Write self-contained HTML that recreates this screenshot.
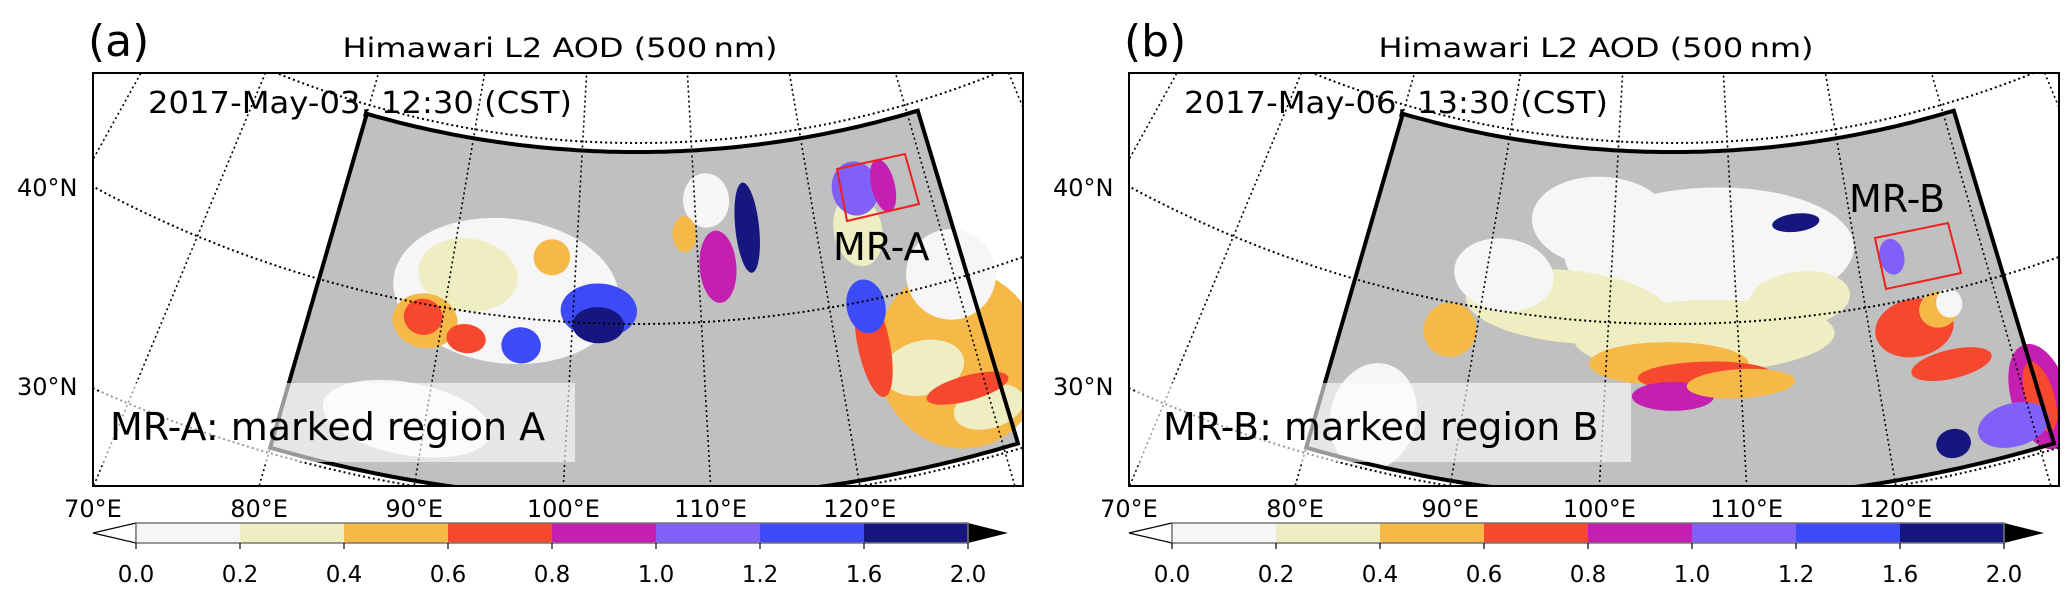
<!DOCTYPE html>
<html><head><meta charset="utf-8">
<style>
html,body{margin:0;padding:0;background:#fff;overflow:hidden;width:2067px;height:602px;}
svg{display:block;}
text{font-family:"DejaVu Sans","Liberation Sans",sans-serif;fill:#000;}
</style></head>
<body>
<svg id="fig" width="2067" height="602" viewBox="0 0 2067 602" xmlns="http://www.w3.org/2000/svg">
<defs>
<clipPath id="axclip"><rect x="93" y="73" width="930" height="413"/></clipPath>
</defs>
</svg>
<script>
// ---- data ----
const aodBounds = [0.0, 0.2, 0.4, 0.6, 0.8, 1.0, 1.2, 1.6, 2.0];
const aodColors = ["#f6f6f6","#eeeec2","#f6b947","#f5482f","#c41fb0","#8060f8","#3c4af8","#15177e"];
const lonTicks = [70, 80, 90, 100, 110, 120];
const latTicks = [40, 30];
const cbTickLabels = ["0.0","0.2","0.4","0.6","0.8","1.0","1.2","1.6","2.0"];
// blobs: lon, lat, rxDeg, ryDeg, aod
const blobsA_lon = [94.6,91.4,88.7,88.5,102,102,96.2,111,109,111.6,114.3,88.7,128.7,126,129.8,129.8,123.4,122.8,128.7,122.8,123.9,126.3,98,92];
const blobsA_lat = [41.4,42.0,39.1,39.3,40.7,39.9,38.5,46.7,44.9,43.0,45.0,33.6,35.7,35.7,32.7,40.3,43.9,37.6,34.0,39.7,46.2,46.0,43.5,38.5];
const blobsA_rx  = [9,4,2.5,1.5,3,2,1.5,2,1,1.5,1,6,6,3,2.5,3.5,2,1.2,3,1.5,2,1,1.5,1.5];
const blobsA_ry  = [4,2,1.5,1,1.5,1,1,1.5,1,2,2.5,2,5,1.5,1.2,2.5,2,3,0.7,1.5,1.5,1.5,1.0,0.8];
const blobsA_aod = [0.1,0.3,0.5,0.7,1.4,1.8,1.4,0.1,0.5,0.9,1.8,0.1,0.5,0.3,0.3,0.1,0.3,0.7,0.7,1.4,1.1,0.9,0.5,0.7];

const blobsB_lon = [108,99,107.4,96.7,91.4,104.7,107.4,105,123.4,125.5,126.4,125.5,131,131,128.7,124.4,122.8,83.9,115.4,88,115,110];
const blobsB_lat = [44,45.5,39.3,40.7,42,37.8,37.1,36,38.4,39.1,39.3,36,33,33,31.9,31.7,42.5,32.9,45.2,38.5,41,36.6];
const blobsB_rx  = [12,6,10,8,4,6,5,3,3,1.5,1,3,2,1,2.5,1.2,1,3,2,2,4,4];
const blobsB_ry  = [3.5,2.5,2,2,2,1.2,0.8,0.8,1.6,1,0.8,0.8,3,2,1.2,0.8,1,3,0.5,1.5,1.5,0.8];
const blobsB_aod = [0.1,0.1,0.3,0.3,0.1,0.5,0.7,0.9,0.7,0.5,0.1,0.7,0.9,0.7,1.1,1.8,1.1,0.15,1.8,0.5,0.3,0.5];

const NS="http://www.w3.org/2000/svg";
const svg=document.getElementById('fig');
function el(tag, attrs, parent){const e=document.createElementNS(NS,tag);for(const k in attrs)e.setAttribute(k,attrs[k]);(parent||svg).appendChild(e);return e;}
// projection
const AX=637, AY=-821;
function rad(lat){return 1145+(40-lat)*18.1;}
function ang(lon){return (lon-105)*0.645*Math.PI/180;}
function proj(lon,lat){const r=rad(lat),a=ang(lon);return [AX+r*Math.sin(a), AY+r*Math.cos(a)];}
function colorFor(v){for(let i=0;i<aodColors.length;i++){if(v<aodBounds[i+1])return aodColors[i];}return "#000";}

function panel(off, label, dateStr, mrName, boxTxt, boxRight, mrLabelPos, mrBox, lons, lats, rxs, rys, aods){
  const g=el('g',{transform:`translate(${off},0)`});
  
  
  const t1=el('text',{x:88,y:56,'font-size':44,'font-family':'Liberation Sans, sans-serif'},g);t1.textContent='('+label+')';
  
  const tt=el('text',{x:560,y:57,'font-size':27,'text-anchor':'middle',textLength:435,lengthAdjust:'spacingAndGlyphs'},g);tt.textContent='Himawari L2 AOD (500\u2009nm)';
  
  const map=el('g',{'clip-path':'url(#axclip)'},g);
  
  el('rect',{x:93,y:73,width:930,height:413,fill:'#fff'},map);
  const lonW=80, lonE=131, latS=30.3, latN=49.5;
  let d='';
  for(let lo=lonW;lo<=lonE+0.01;lo+=0.5){const p=proj(lo,latN);d+=(d?'L':'M')+p[0].toFixed(1)+','+p[1].toFixed(1);}
  for(let lo=lonE;lo>=lonW-0.01;lo-=0.5){const p=proj(lo,latS);d+='L'+p[0].toFixed(1)+','+p[1].toFixed(1);}
  d+='Z';
  const dom=el('path',{d:d,fill:'#c0c0c0'},map);
  
  const inner=el('g',{},map);
  for(let i=0;i<lons.length;i++){
    const c=proj(lons[i],lats[i]);const r=rad(lats[i]);
    const rx=rxs[i]*0.645*Math.PI/180*r, ry=rys[i]*18.1;
    const e=el('ellipse',{cx:c[0].toFixed(1),cy:c[1].toFixed(1),rx:rx.toFixed(1),ry:ry.toFixed(1),fill:colorFor(aods[i]),transform:`rotate(${(-ang(lons[i])*180/Math.PI).toFixed(2)} ${c[0].toFixed(1)} ${c[1].toFixed(1)})`},inner);
    
    
  }
  for(let lo=60;lo<=140;lo+=10){const a=proj(lo,60),b=proj(lo,20);
    const m=el('line',{x1:a[0],y1:a[1],x2:b[0],y2:b[1],stroke:'#000','stroke-width':1.6,'stroke-dasharray':'2,3'},map);
    }
  for(const la of [30,40,50]){let p='';for(let lo=50;lo<=160;lo+=1){const q=proj(lo,la);p+=(p?'L':'M')+q[0].toFixed(1)+','+q[1].toFixed(1);}
    const pl=el('path',{d:p,fill:'none',stroke:'#000','stroke-width':2,'stroke-dasharray':'2,3'},map);
    }
  const bd=el('path',{d:d,fill:'none',stroke:'#000','stroke-width':4},map);
  
  const bx=el('rect',{x:100,y:383,width:boxRight-100,height:79,fill:'#fff','fill-opacity':0.6},map);
  
  const bt=el('text',{x:label==='a'?110:127,y:440,'font-size':38,'font-family':'Liberation Sans, sans-serif'},map);bt.textContent=boxTxt;
  
  const rb=el('polygon',{points:mrBox,fill:'none',stroke:'#f02020','stroke-width':2},map);
  
  const ml=el('text',{x:mrLabelPos[0],y:mrLabelPos[1],'font-size':38,'font-family':'Liberation Sans, sans-serif'},map);ml.textContent=mrName;
  
  const dt=el('text',{x:148,y:113,'font-size':30,textLength:424,lengthAdjust:'spacingAndGlyphs'},map);dt.textContent=dateStr;
  
  const fr=el('rect',{x:93,y:73,width:930,height:413,fill:'none',stroke:'#000','stroke-width':2},g);
  
  const latY={40:196,30:395};
  for(const la of latTicks){const t=el('text',{x:17,y:latY[la],'font-size':24},g);t.textContent=la+'°N';
    }
  for(const lo of lonTicks){
    const a=proj(lo,60),b=proj(lo,20);const tpar=(486-a[1])/(b[1]-a[1]);let x=a[0]+tpar*(b[0]-a[0]);
    if(lo===70)x=93;
    const t=el('text',{x:x.toFixed(1),y:517,'font-size':24,'text-anchor':'middle'},g);t.textContent=lo+'°E';
    }
  const cb=el('g',{},g);
  const x0=136, w=104, y0=523, h=20;
  el('polygon',{points:`${x0},${y0} 93,${y0+h/2} ${x0},${y0+h}`,fill:'#fff',stroke:'#000','stroke-width':1.2},cb);
  for(let i=0;i<aodColors.length;i++){
    const s=el('rect',{x:x0+i*w,y:y0,width:w+0.5,height:h,fill:aodColors[i]},cb);
    }
  const xe=x0+aodColors.length*w;
  el('polygon',{points:`${xe},${y0} ${xe+40},${y0+h/2} ${xe},${y0+h}`,fill:'#000'},cb);
  el('rect',{x:x0,y:y0,width:xe-x0,height:h,fill:'none',stroke:'#777','stroke-width':1.5},cb);
  for(let i=0;i<cbTickLabels.length;i++){
    const x=x0+i*w;
    el('line',{x1:x,y1:y0+h,x2:x,y2:y0+h+6,stroke:'#000','stroke-width':1.2},cb);
    const t=el('text',{x:x,y:582,'font-size':23,'text-anchor':'middle'},cb);t.textContent=cbTickLabels[i];
    }
}
panel(0,'a','2017-May-03, 12:30 (CST)','MR-A','MR-A: marked region A',575,[833,260],'837,169 905,154 919,204 847,221',blobsA_lon,blobsA_lat,blobsA_rx,blobsA_ry,blobsA_aod);
panel(1036,'b','2017-May-06, 13:30 (CST)','MR-B','MR-B: marked region B',595,[813,212],'839,238 912,223 925,273 850,289',blobsB_lon,blobsB_lat,blobsB_rx,blobsB_ry,blobsB_aod);
</script>
</body></html>
